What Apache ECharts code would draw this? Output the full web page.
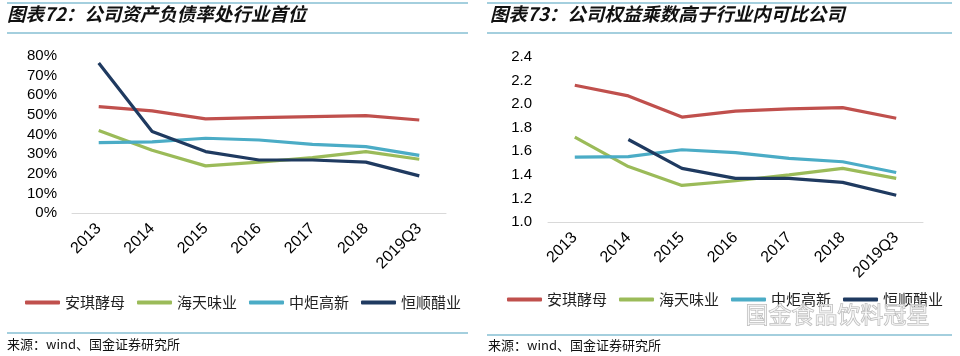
<!DOCTYPE html>
<html><head><meta charset="utf-8">
<script src="https://cdn.jsdelivr.net/npm/echarts@6/dist/echarts.min.js"></script>
<style>html,body{margin:0;padding:0;background:#fff}#c{width:960px;height:356px}</style>
</head><body><div id="c"></div>
<script>
const categories = ['2013','2014','2015','2016','2017','2018','2019Q3'];
const seriesNames = ['安琪酵母','海天味业','中炬高新','恒顺醋业'];
const colors = ['#C0504D','#9BBB59','#4BACC6','#1F3A60'];
// 资产负债率 (%)
const debtAngel = [54.2, 52.0, 48.0, 48.6, 49.1, 49.6, 47.4];
const debtHaitian = [42.0, 32.0, 24.0, 25.9, 28.2, 31.3, 27.4];
const debtZhongju = [35.9, 36.2, 38.1, 37.2, 35.0, 33.8, 29.4];
const debtHengshun = [76.4, 41.5, 31.3, 27.0, 27.0, 25.9, 18.9];
// 权益乘数
const emAngel = [2.16, 2.07, 1.89, 1.94, 1.96, 1.97, 1.88];
const emHaitian = [1.72, 1.47, 1.31, 1.35, 1.40, 1.455, 1.37];
const emZhongju = [1.55, 1.555, 1.613, 1.588, 1.54, 1.511, 1.42];
const emHengshun = [null, 1.70, 1.455, 1.37, 1.37, 1.336, 1.227];
const leftTicks = [0,10,20,30,40,50,60,70,80];
const rightTicks = [1.0,1.2,1.4,1.6,1.8,2.0,2.2,2.4];

const chart = echarts.init(document.getElementById('c'));
const font = '"Liberation Sans", Arial, sans-serif';
const cjk = '"Noto Sans CJK SC", sans-serif';
const lineColor = '#86bfd3';

function xAxis(gi){
  return {type:'category', gridIndex:gi, data:categories, boundaryGap:true,
    axisLine:{lineStyle:{color:'#d9d9d9',width:1}}, axisTick:{show:false},
    axisLabel:{rotate:45, margin:13, color:'#000', fontSize:16, fontFamily:font, interval:0}};
}
function mk(name, data, gi, ci){
  return {name, type:'line', xAxisIndex:gi, yAxisIndex:gi, data, symbol:'none',
    lineStyle:{width:3.2, color:colors[ci]}, itemStyle:{color:colors[ci]}, connectNulls:false, z:ci===3?5:3};
}
const legendBase = {data:seriesNames, icon:'roundRect', itemWidth:35, itemHeight:4, itemGap:12, padding:0,
  textStyle:{fontSize:15, fontFamily:cjk, color:'#222'}};

chart.setOption({
  animation:false,
  color:colors,
  grid:[{left:72, right:514, top:56, bottom:143},{left:548, right:37, top:57, bottom:134}],
  xAxis:[xAxis(0), xAxis(1)],
  yAxis:[
    {type:'value', gridIndex:0, min:leftTicks[0], max:leftTicks[leftTicks.length-1], interval:10,
     splitLine:{show:false}, axisLine:{show:false}, axisTick:{show:false},
     axisLabel:{formatter:'{value}%', color:'#000', fontSize:15, fontFamily:font, margin:15}},
    {type:'value', gridIndex:1, min:rightTicks[0], max:rightTicks[rightTicks.length-1], interval:0.2,
     splitLine:{show:false}, axisLine:{show:false}, axisTick:{show:false},
     axisLabel:{formatter:v=>v.toFixed(1), color:'#000', fontSize:15, fontFamily:font, margin:16}}
  ],
  legend:[
    Object.assign({}, legendBase, {left:25, top:295}),
    Object.assign({}, legendBase, {left:507, top:292})
  ],
  series:[
    mk(seriesNames[0], debtAngel, 0, 0), mk(seriesNames[1], debtHaitian, 0, 1),
    mk(seriesNames[2], debtZhongju, 0, 2), mk(seriesNames[3], debtHengshun, 0, 3),
    mk(seriesNames[0], emAngel, 1, 0), mk(seriesNames[1], emHaitian, 1, 1),
    mk(seriesNames[2], emZhongju, 1, 2), mk(seriesNames[3], emHengshun, 1, 3)
  ],
  graphic:[
    {type:'line', shape:{x1:7,y1:3,x2:468,y2:3}, style:{stroke:lineColor,lineWidth:1.5}},
    {type:'line', shape:{x1:7,y1:33,x2:468,y2:33}, style:{stroke:lineColor,lineWidth:1.5}},
    {type:'line', shape:{x1:7,y1:333,x2:468,y2:333}, style:{stroke:lineColor,lineWidth:1.5}},
    {type:'line', shape:{x1:487,y1:3,x2:952,y2:3}, style:{stroke:lineColor,lineWidth:1.5}},
    {type:'line', shape:{x1:487,y1:33,x2:952,y2:33}, style:{stroke:lineColor,lineWidth:1.5}},
    {type:'line', shape:{x1:487,y1:335,x2:952,y2:335}, style:{stroke:lineColor,lineWidth:1.5}},
    {type:'text', left:7, top:5, style:{text:'图表72：公司资产负债率处行业首位', font:'italic bold 18.5px "Noto Sans CJK SC", sans-serif', fill:'#111'}},
    {type:'text', left:490, top:5, style:{text:'图表73：公司权益乘数高于行业内可比公司', font:'italic bold 18.5px "Noto Sans CJK SC", sans-serif', fill:'#111'}},
    {type:'text', left:7, top:338, style:{text:'来源：wind、国金证券研究所', font:'13px "Noto Sans CJK SC", sans-serif', fill:'#111'}},
    {type:'text', left:488, top:339, style:{text:'来源：wind、国金证券研究所', font:'13px "Noto Sans CJK SC", sans-serif', fill:'#111'}},
    {type:'text', left:745, top:302, z:100, style:{text:'国金食品饮料冠星', font:'23px "Noto Sans CJK SC", sans-serif', fill:'rgba(255,255,255,0.55)', stroke:'#b4b4b4', lineWidth:1}}
  ]
});
</script></body></html>
